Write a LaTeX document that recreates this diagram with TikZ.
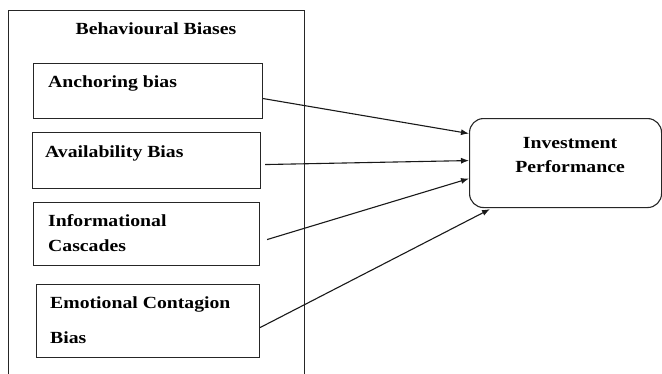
\documentclass[tikz,border=0pt]{standalone}
\usepackage{fontspec}
\usepackage{graphicx}
\setmainfont{Liberation Serif}
\usetikzlibrary{arrows.meta}
\newcommand\widetxt[1]{\scalebox{1.16}[1]{#1}}
\begin{document}
\begin{tikzpicture}[x=1pt,y=1pt,
  box/.style={draw=black!85,line width=1.1pt,inner sep=0pt,anchor=north west},
  lbl/.style={anchor=west,inner sep=0pt,font=\fontsize{17}{20}\selectfont\bfseries},
  arr/.style={draw=black!90,line width=1.1pt,-{Latex[length=8pt,width=6pt]}}]
\useasboundingbox (0,0) rectangle (662,-373);
\clip (0,0) rectangle (662,-373);
\fill[white] (0,0) rectangle (662,-373);
% outer box
\node[box,minimum width=296pt,minimum height=375pt] (outer) at (8,-10) {};
\node[inner sep=0pt,font=\fontsize{17}{20}\selectfont\bfseries] (title) at (156,-29) {\widetxt{Behavioural Biases}};
% inner boxes
\node[box,minimum width=229pt,minimum height=55pt] (anch) at (33,-63) {};
\node[lbl] (anchT) at (48,-83) {\widetxt{Anchoring bias}};
\node[box,minimum width=228pt,minimum height=56pt] (avail) at (32,-132) {};
\node[lbl] (availT) at (45,-153) {\widetxt{Availability Bias}};
\node[box,minimum width=226pt,minimum height=63pt] (info) at (33,-202) {};
\node[lbl] (infoT1) at (48,-221) {\widetxt{Informational}};
\node[lbl] (infoT2) at (48,-246) {\widetxt{Cascades}};
\node[box,minimum width=223pt,minimum height=73pt] (emo) at (36,-284) {};
\node[lbl] (emoT1) at (50,-304) {\widetxt{Emotional Contagion}};
\node[lbl] (emoT2) at (50,-338) {\widetxt{Bias}};
% investment box
\node[box,rounded corners=14pt,minimum width=192pt,minimum height=89pt] (inv) at (469,-118) {};
\node[inner sep=0pt,font=\fontsize{17}{20}\selectfont\bfseries] (invT1) at (570,-143) {\widetxt{Investment}};
\node[inner sep=0pt,font=\fontsize{17}{20}\selectfont\bfseries] (invT2) at (570,-167) {\widetxt{Performance}};
% arrows
\draw[arr] ([yshift=-7.5pt]anch.east) -- ([yshift=29.5pt]inv.west);
\draw[arr] ([xshift=4pt,yshift=-4pt]avail.east) -- ([yshift=2.5pt]inv.west);
\draw[arr] ([xshift=7pt,yshift=-5.5pt]info.east) -- ([yshift=-15.5pt]inv.west);
\draw[arr] ([yshift=-6.5pt]emo.east) -- ([xshift=-75.5pt,yshift=-1pt]inv.south);
\end{tikzpicture}
\end{document}
